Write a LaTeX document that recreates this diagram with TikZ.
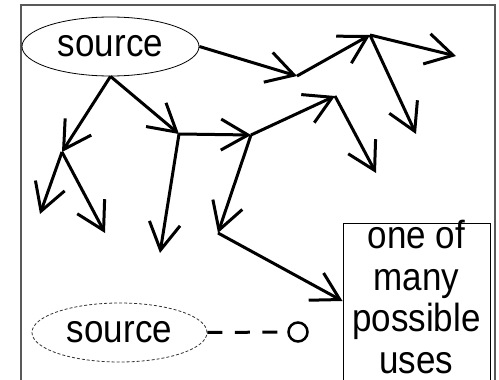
\documentclass[tikz,border=0pt]{standalone}
\usepackage{fontspec}
\setmainfont{Liberation Sans}
\usetikzlibrary{arrows.meta,shapes.geometric}
\newcommand{\tall}[1]{\scalebox{1}[1.12]{#1}}
\begin{document}
\begin{tikzpicture}[x=1pt,y=-1pt,
  arr/.style={line width=3pt, -{Straight Barb[length=27pt,width=31pt]}},
  lbl/.style={font=\fontsize{35pt}{41.5pt}\selectfont},
  frame/.style={draw=black!65, line width=1.2pt},
  srcnode/.style={ellipse, draw, line width=0.8pt, minimum width=177pt, minimum height=59pt, inner sep=0pt, lbl}
]
\useasboundingbox (0,0) rectangle (499,380);
\clip (0,0) rectangle (499,380);
\fill[white] (0,0) rectangle (499,380);
\draw[frame] (21,420) -- (21,5) -- (495,5) -- (495,420);

\node[srcnode] (src) at (110.5,46.5) {\tall{source}};
\node[srcnode, draw=black!80, dash pattern=on 3pt off 2pt, minimum width=175pt] (src2) at (119.5,332.5) {\tall{source}};
\node[circle, draw, line width=2.5pt, minimum size=19pt, inner sep=0pt] (use) at (298,332) {};
\draw[line width=3pt, dash pattern=on 15pt off 12.5pt] (src2.east) -- (use.west);

\node[draw, line width=0.8pt, anchor=north west, minimum width=147pt, minimum height=200pt, inner sep=0pt] (box) at (343,223) {};
\node[lbl, align=center, anchor=north, inner sep=0pt] (boxtext) at (416.5,220) {\tall{one of}\\\tall{many}\\\tall{possible}\\\tall{uses}};

\coordinate (A) at (62,152);
\coordinate (B) at (179,134);
\coordinate (C) at (297,76);
\coordinate (D) at (370,35);
\coordinate (E) at (251,135);
\coordinate (F) at (335,96);
\coordinate (G) at (218,233);
\coordinate (H) at (342.5,301);
\coordinate (d1) at (456,56);
\coordinate (d2) at (416,134);
\coordinate (f1) at (376,173);
\coordinate (a1) at (40,214);
\coordinate (a2) at (105,233);
\coordinate (b1) at (160,253);

\draw[arr] (src.south) -- (A);
\draw[arr] (src.south) -- (B);
\draw[arr] (src.east) -- (C);
\draw[arr] (C) -- (D);
\draw[arr] (D) -- (d1);
\draw[arr] (D) -- (d2);
\draw[arr] (B) -- (E);
\draw[arr] (E) -- (F);
\draw[arr] (F) -- (f1);
\draw[arr] (A) -- (a1);
\draw[arr] (A) -- (a2);
\draw[arr] (B) -- (b1);
\draw[arr] (E) -- (G);
\draw[arr] (G) -- (H);
\end{tikzpicture}
\end{document}
